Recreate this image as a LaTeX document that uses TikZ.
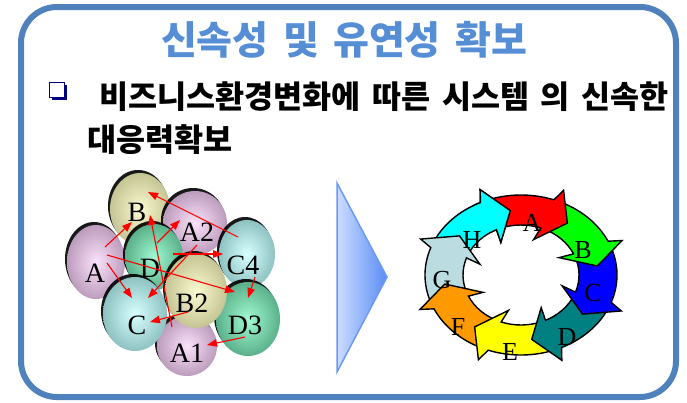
\documentclass[tikz,border=0pt]{standalone}
\usepackage{fontspec}
\setmainfont{Liberation Serif}
\newfontfamily\kr{Noto Sans CJK KR}[WordSpace=1.6]
\usetikzlibrary{shapes.geometric,arrows.meta,shadows}
\definecolor{frameblue}{HTML}{4F81BD}
\definecolor{titleblue}{HTML}{558ED5}
\definecolor{navyb}{HTML}{000080}
\definecolor{lavin}{HTML}{FBE2FB}
\definecolor{lavout}{HTML}{BC9CBC}
\definecolor{khin}{HTML}{FAFAD0}
\definecolor{khout}{HTML}{C4C494}
\definecolor{grin}{HTML}{A0FAD2}
\definecolor{grout}{HTML}{5AB08A}
\definecolor{cyin}{HTML}{D8FFFF}
\definecolor{cyout}{HTML}{8EC2C2}
\definecolor{chevl}{HTML}{CCDCFF}
\definecolor{chevr}{HTML}{5A8CF5}
\definecolor{chevd}{HTML}{6A9AF5}
\definecolor{segA}{HTML}{FF0000}
\definecolor{segB}{HTML}{00FF00}
\definecolor{segC}{HTML}{0000FF}
\definecolor{segD}{HTML}{008080}
\definecolor{segE}{HTML}{FFFF00}
\definecolor{segF}{HTML}{FF9900}
\definecolor{segG}{HTML}{BBDDE2}
\definecolor{segH}{HTML}{00FFFF}
\newcommand\segpath[1]{(#1+42:96pt and 80pt) arc[start angle=#1+42, end angle=#1, x radius=96pt, y radius=80pt] -- (#1-3:109pt and 92pt) -- (#1-17:77pt and 65pt) -- (#1+3:43pt and 37pt) -- (#1:58pt and 50pt) arc[start angle=#1, end angle=#1+42, x radius=58pt, y radius=50pt] -- cycle}
\begin{document}
\begin{tikzpicture}[x=1pt,y=-1pt,
  bub/.style={ellipse, inner sep=0pt, shade, drop shadow={shadow xshift=-2pt,shadow yshift=3pt,opacity=0.9,fill=black}},
  lav/.style={bub, inner color=lavin, outer color=lavout},
  kha/.style={bub, inner color=khin, outer color=khout},
  grn/.style={bub, inner color=grin, outer color=grout},
  cyn/.style={bub, inner color=cyin, outer color=cyout},
  blab/.style={font=\fontsize{28}{28}\selectfont, inner sep=0pt},
  rlab/.style={font=\fontsize{26}{26}\selectfont, inner sep=0pt},
  rarr/.style={red, line width=1.1pt, -{Triangle[length=10pt,width=7.5pt]}},
  seg/.style={draw=black, line width=1.4pt, line join=miter},
  krtext/.style={font=\kr\bfseries\fontsize{31.6}{36}\selectfont, inner sep=0pt}
]
\useasboundingbox (0,0) rectangle (687,402);
\fill[white] (0,0) rectangle (687,402);
% frame
\draw[frameblue, line width=6pt, rounded corners=36pt] (21,7) rectangle (676,397);
% title
\node[font=\kr\bfseries\fontsize{39}{44}\selectfont, text=titleblue, inner sep=0pt] (title) at (344,40) {신속성 및 유연성 확보};
% bullet
\node[draw=navyb, fill=white, line width=1.6pt, minimum size=15pt, inner sep=0pt,
  drop shadow={shadow xshift=2.5pt,shadow yshift=-2.5pt,opacity=1,fill=navyb}] (bul) at (57,90) {};
\node[krtext] (line1) at (384,97) {비즈니스환경변화에 따른 시스템 의 신속한};
\node[krtext] (line2) at (160,140) {대응력확보};

% bubbles
\node[kha, minimum width=60pt, minimum height=72pt] (eB) at (140,209) {};
\node[lav, minimum width=64pt, minimum height=64pt] (eA2) at (195,223) {};
\node[lav, minimum width=58pt, minimum height=74pt] (eA) at (96,262) {};
\node[grn, minimum width=58pt, minimum height=66pt] (eD) at (154,257) {};
\node[cyn, minimum width=56pt, minimum height=68pt] (eC4) at (247,254) {};
\node[lav, minimum width=60pt, minimum height=60pt] (eA1) at (187,346) {};
\node[grn, minimum width=64pt, minimum height=74pt] (eD3) at (248,319) {};
\node[cyn, minimum width=64pt, minimum height=74pt] (eC) at (135,314) {};
\node[kha, minimum width=62pt, minimum height=74pt] (eB2) at (196,291) {};

\node[blab] (tB) at (137,212) {B};
\node[blab] (tA) at (95,273) {A};
\node[blab] (tD) at (150,268) {D};
\node[blab] (tA2) at (197,232) {A2};
\node[blab] (tC4) at (243,265) {C4};
\node[blab] (tB2) at (192,303) {B2};
\node[blab] (tC) at (137,325) {C};
\node[blab] (tA1) at (187,353) {A1};
\node[blab] (tD3) at (245,325) {D3};

% arrow ends
\coordinate (p1s) at (105,247); \coordinate (p1e) at (132,222);
\coordinate (p2s) at (107,263); \coordinate (p2e) at (132,298);
\coordinate (p3s) at (107,255); \coordinate (p3e) at (235,292);
\coordinate (p4s) at (238,237); \coordinate (p4e) at (148,192);
\coordinate (p5s) at (157,243); \coordinate (p5e) at (180,220);
\coordinate (p6s) at (173,254); \coordinate (p6e) at (223,254);
\coordinate (p7s) at (197,245); \coordinate (p7e) at (148,298);
\coordinate (p8s) at (172,327); \coordinate (p8e) at (150,215);
\coordinate (p9s) at (188,312); \coordinate (p9e) at (150,322);
\coordinate (p10s) at (255,277); \coordinate (p10e) at (248,298);
\coordinate (p11s) at (245,337); \coordinate (p11e) at (207,345);
\foreach \i in {1,...,11} {\draw[rarr] (p\i s) -- (p\i e);}

% chevron
\draw[chevd, line width=1.5pt, left color=chevl, right color=chevr, line join=miter] (337,183) -- (387,277) -- (337,372) -- cycle;

% cycle
\begin{scope}[shift={(521,275)}]
  \path[seg, fill=segH] \segpath{115};
  \path[seg, fill=segG] \segpath{160};
  \path[seg, fill=segF] \segpath{-155};
  \path[seg, fill=segE] \segpath{-110};
  \path[seg, fill=segD] \segpath{-65};
  \path[seg, fill=segC] \segpath{-20};
  \path[seg, fill=segB] \segpath{25};
  \path[seg, fill=segA] \segpath{70};
  \begin{scope}
    \clip (0pt,0pt) -- (86:200pt) -- (105:200pt) -- (124:200pt) -- cycle;
    \path[seg, fill=segH] \segpath{115};
  \end{scope}
\end{scope}
\node[rlab] (lA) at (532,223) {A};
\node[rlab] (lB) at (583,250) {B};
\node[rlab] (lC) at (593,293) {C};
\node[rlab] (lD) at (567,337) {D};
\node[rlab] (lE) at (510,352) {E};
\node[rlab] (lF) at (458,327) {F};
\node[rlab] (lG) at (442,280) {G};
\node[rlab] (lH) at (472,240) {H};
\end{tikzpicture}
\end{document}
